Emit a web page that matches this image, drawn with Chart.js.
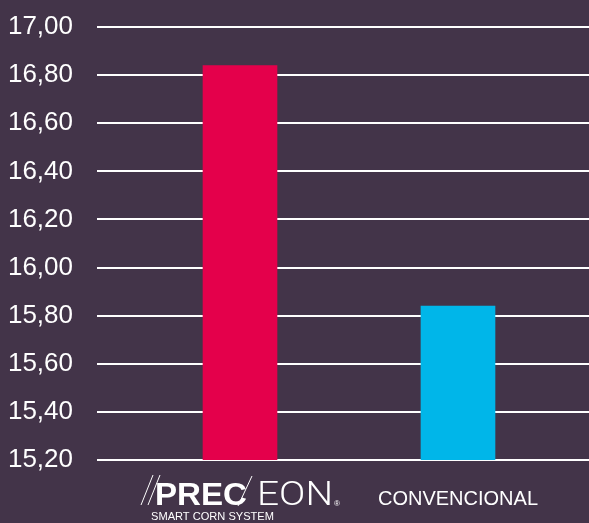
<!DOCTYPE html>
<html>
<head>
<meta charset="utf-8">
<script src="https://cdn.jsdelivr.net/npm/chart.js@4.4.1/dist/chart.umd.min.js"></script>
<style>
  html, body { margin: 0; padding: 0; background: #433449; }
  #wrap { width: 589px; height: 523px; position: relative; }
</style>
</head>
<body>
<div id="wrap"><canvas id="chart"></canvas></div>
<script>
// Chart data
const categories = ['PRECEON', 'CONVENCIONAL'];
const values = [16.84, 15.84];
const barColors = ['#e4004b', '#00b6e9'];
const yTicks = [15.2, 15.4, 15.6, 15.8, 16.0, 16.2, 16.4, 16.6, 16.8, 17.0];

const fmt = v => v.toFixed(2).replace('.', ',');

// text squeezed/stretched to a given width
function fitText(ctx, text, font, x, y, width) {
    ctx.font = font;
    const w = ctx.measureText(text).width;
    ctx.save();
    ctx.translate(x, y);
    ctx.scale(width / w, 1);
    ctx.textAlign = 'left';
    ctx.fillText(text, 0, 0);
    ctx.restore();
}

function line(ctx, x1, y1, x2, y2) {
    ctx.beginPath();
    ctx.moveTo(x1, y1);
    ctx.lineTo(x2, y2);
    ctx.stroke();
}

// Draws the brand logo under the first bar, plain label under the second
const xLabels = {
    id: 'xLabels',
    afterDraw(chart) {
        const { ctx, scales: { x } } = chart;
        const b = chart.chartArea.bottom;
        const cx = x.getPixelForValue(0);
        ctx.save();
        ctx.fillStyle = '#ffffff';
        ctx.strokeStyle = '#ffffff';
        ctx.lineWidth = 1;
        ctx.textBaseline = 'alphabetic';

        // logo: PREC/EON
        line(ctx, cx - 87, b + 15, cx - 99, b + 45);
        line(ctx, cx - 80, b + 15, cx - 92, b + 45);
        fitText(ctx, 'PREC', 'bold 32px "Liberation Sans"', cx - 85, b + 45, 92);
        line(ctx, cx + 12, b + 16, cx - 2, b + 46);
        fitText(ctx, 'EON', '300 33px "Roboto", "Liberation Sans"', cx + 17, b + 45, 76);
        fitText(ctx, '®', '8px "Liberation Sans"', cx + 94, b + 46, 6);
        fitText(ctx, 'SMART CORN SYSTEM', '11px "Liberation Sans"', cx - 89, b + 60, 123);

        // second category
        ctx.font = '20px "Liberation Sans"';
        ctx.textAlign = 'center';
        ctx.fillText(categories[1], x.getPixelForValue(1), b + 45);
        ctx.restore();
    }
};

new Chart(document.getElementById('chart'), {
    type: 'bar',
    data: {
        datasets: [{
            data: values.map((v, i) => ({ x: i, y: v })),
            backgroundColor: barColors,
            barThickness: 74,
            borderWidth: 0
        }]
    },
    options: {
        responsive: true,
        maintainAspectRatio: false,
        animation: false,
        layout: { padding: { top: 27, right: 0, left: 0, bottom: 0 } },
        plugins: { legend: { display: false }, tooltip: { enabled: false } },
        scales: {
            x: {
                type: 'linear',
                offset: false,
                min: -0.656,
                max: 1.601,
                grid: { display: false, offset: false },
                border: { display: false },
                ticks: { display: false },
                afterFit(s) { s.height = 63; }
            },
            y: {
                min: 15.2,
                max: 17.0,
                afterBuildTicks(s) { s.ticks = yTicks.map(v => ({ value: v })); },
                afterFit(s) { s.width = 97; s.paddingTop = 0; s.paddingBottom = 0; },
                border: { display: false },
                grid: { color: '#ffffff', lineWidth: 2, drawTicks: false },
                ticks: {
                    color: '#ffffff',
                    padding: 24,
                    font: { family: '"Liberation Sans"', size: 26 },
                    callback: v => fmt(v)
                }
            }
        }
    },
    plugins: [xLabels]
});
</script>
</body>
</html>
